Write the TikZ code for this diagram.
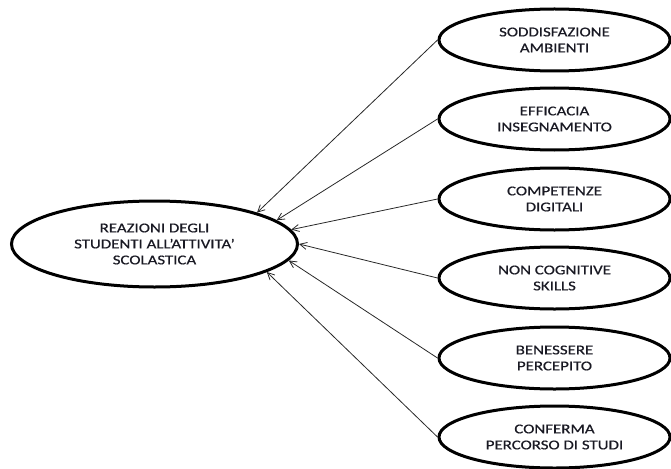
\documentclass[tikz,border=0pt]{standalone}
\usepackage{fontspec}
\newfontfamily\carl[FakeStretch=1.25,FakeBold=0.6]{Carlito}
\usetikzlibrary{shapes.geometric,arrows.meta}
\definecolor{txtcol}{RGB}{25,25,35}
\definecolor{arrcol}{RGB}{40,40,40}
\begin{document}
\begin{tikzpicture}[x=1pt,y=-1pt,
  every node/.style={font=\carl\fontsize{13.5}{16}\selectfont, text=txtcol, align=center},
  bigell/.style={ellipse, draw=black, line width=3pt, inner sep=0pt,
    minimum width=286pt, minimum height=86pt},
  smallell/.style={ellipse, draw=black, line width=3pt, inner sep=0pt,
    minimum width=231pt, minimum height=62pt},
  conn/.style={draw=arrcol, line width=0.8pt, -{Straight Barb[length=7pt,width=7pt]}}]
\useasboundingbox (0,0) rectangle (671,468);
\node[bigell] (L) at (154.5,244) {REAZIONI DEGLI\\STUDENTI ALL’ATTIVITA’\\SCOLASTICA};
\node[smallell] (r1) at (554.5,40) {SODDISFAZIONE\\AMBIENTI};
\node[smallell] (r2) at (554.5,119) {EFFICACIA\\INSEGNAMENTO};
\node[smallell] (r3) at (554.5,199) {COMPETENZE\\DIGITALI};
\node[smallell] (r4) at (554.5,278) {NON COGNITIVE\\SKILLS};
\node[smallell] (r5) at (554.5,358) {BENESSERE\\PERCEPITO};
\node[smallell] (r6) at (554.5,437) {CONFERMA\\PERCORSO DI STUDI};
\draw[conn] (r1.west) -- (L.17.8);
\draw[conn] (r2.west) -- (L.11.1);
\draw[conn] (r3.west) -- (L.6.1);
\draw[conn] (r4.west) -- (L.0);
\draw[conn] (r5.west) -- (L.-7.9);
\draw[conn] (r6.west) -- (L.-14.5);
\end{tikzpicture}
\end{document}
